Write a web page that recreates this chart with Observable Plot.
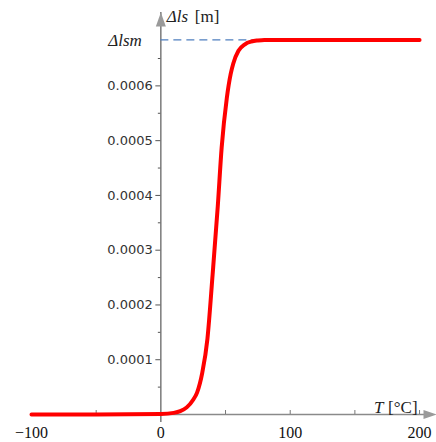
<!DOCTYPE html>
<html>
<head>
<meta charset="utf-8">
<script src="https://cdn.jsdelivr.net/npm/d3@7"></script>
<script src="https://cdn.jsdelivr.net/npm/@observablehq/plot@0.6"></script>
<style>
  html, body { margin: 0; padding: 0; background: #fff; }
</style>
</head>
<body>
<div id="chart"></div>
<script>
// Curve data: temperature T [°C] and elongation Δls [m]
const temps = [-100, -50, 0, 10, 15, 20, 25, 28, 32, 36, 40, 44, 47, 51, 54, 56, 60, 65, 70, 75, 80, 100, 150, 200];
const dls = [0, 0, 0.000001, 0.000003, 0.000006, 0.000013, 0.000027, 0.000040, 0.000076, 0.000138, 0.000255, 0.000380, 0.000487, 0.000578, 0.000622, 0.000641, 0.000664, 0.000676, 0.000681, 0.000683, 0.000684, 0.000684, 0.000684, 0.000684];

// Reference level Δlsm and where its dashed guide ends
const lsm = 0.000684;
const lsmGuideEnd = 74;

// Axis ticks and labels
const xLabelValues = [-100, 0, 100, 200];
const xLabelTexts = ["\u2212100", "0", "100", "200"];
const xTickValues = [-50, 50, 100, 150, 200];
const yMajor = [0.0001, 0.0002, 0.0003, 0.0004, 0.0005, 0.0006];
const yLabelTexts = ["0.0001", "0.0002", "0.0003", "0.0004", "0.0005", "0.0006"];
const yMinor = [0.00005, 0.00015, 0.00025, 0.00035, 0.00045, 0.00055, 0.00065];

// Axis extents (data units)
const xMin = -100, xMax = 213.1;
const yMin = 0, yMax = 0.000734;

const curve = temps.map((t, i) => ({T: t, v: dls[i]}));
const xLabels = xLabelValues.map((x, i) => ({x, text: xLabelTexts[i]}));
const yLabels = yMajor.map((y, i) => ({y, text: yLabelTexts[i]}));

const arrowUp = {draw(ctx) { ctx.moveTo(0, 0); ctx.lineTo(-5, 14); ctx.lineTo(5, 14); ctx.closePath(); }};
const arrowRight = {draw(ctx) { ctx.moveTo(0, 0); ctx.lineTo(-13, -4.5); ctx.lineTo(-13, 4.5); ctx.closePath(); }};

const serif = "'Liberation Serif', 'Times New Roman', serif";
const sans = "'DejaVu Sans', Verdana, sans-serif";

const chart = Plot.plot({
  width: 436,
  height: 442,
  marginLeft: 31,
  marginRight: 0,
  marginTop: 12,
  marginBottom: 28,
  x: {domain: [xMin, xMax], axis: null},
  y: {domain: [yMin, yMax], axis: null},
  marks: [
    // axes lines
    Plot.ruleY([0], {x1: xMin, x2: xMax, dx: 0, stroke: "#8a8a8a", strokeWidth: 1.5, insetRight: 8}),
    Plot.ruleX([0], {y1: yMin, y2: yMax, stroke: "#666", strokeWidth: 1.3, insetTop: 8}),
    // y ticks
    Plot.ruleY(yMajor, {x1: 0, x2: 0, insetLeft: -5, stroke: "#555", strokeWidth: 1}),
    Plot.ruleY(yMinor, {x1: 0, x2: 0, insetLeft: -2.5, stroke: "#555", strokeWidth: 1}),
    // x ticks
    Plot.ruleX(xTickValues, {y1: 0, y2: 0, insetTop: -4, stroke: "#777", strokeWidth: 1}),
    // arrowheads
    Plot.dot([{x: 0, y: yMax}], {x: "x", y: "y", symbol: arrowUp, r: 5, fill: "#9a9a9a", stroke: "none"}),
    Plot.dot([{x: xMax, y: 0}], {x: "x", y: "y", symbol: arrowRight, r: 5, fill: "#9a9a9a", stroke: "none"}),
    // dashed Δlsm guide
    Plot.ruleY([lsm], {x1: 0, x2: lsmGuideEnd, stroke: "#4f7fbf", strokeWidth: 1.3, strokeDasharray: "8,5"}),
    // the curve
    Plot.line(curve, {x: "T", y: "v", stroke: "#ff0000", strokeWidth: 4, curve: "monotone-x", strokeLinejoin: "round"}),
    // y tick labels
    Plot.text(yLabels, {x: 0, y: "y", text: "text", textAnchor: "end", dx: -8, fontFamily: sans, fontSize: 13, fill: "#333"}),
    // x tick labels
    Plot.text(xLabels, {x: "x", y: 0, text: "text", lineAnchor: "bottom", dy: 23, fontFamily: serif, fontSize: 16, fill: "#111"}),
    // Δlsm label
    Plot.text([lsm], {x: 0, y: d => d, text: ["\u0394lsm"], textAnchor: "end", dx: -19, dy: 1, fontFamily: serif, fontStyle: "italic", fontSize: 17, fill: "#222"}),
    // y axis title
    Plot.text([yMax], {x: 0, y: d => d, text: ["\u0394ls"], textAnchor: "start", lineAnchor: "bottom", dx: 6, dy: 9, fontFamily: serif, fontStyle: "italic", fontSize: 17, fill: "#222"}),
    Plot.text([yMax], {x: 0, y: d => d, text: ["[m]"], textAnchor: "start", lineAnchor: "bottom", dx: 34, dy: 9, fontFamily: serif, fontSize: 17, fill: "#222"}),
    // x axis title
    Plot.text([200], {x: d => d, y: 0, text: ["T"], textAnchor: "end", lineAnchor: "bottom", dx: -36, dy: -2, fontFamily: serif, fontStyle: "italic", fontSize: 17, fill: "#222"}),
    Plot.text([200], {x: d => d, y: 0, text: ["[\u00b0C]"], textAnchor: "end", lineAnchor: "bottom", dx: -2, dy: -2, fontFamily: serif, fontSize: 17, fill: "#222"})
  ]
});

document.getElementById("chart").appendChild(chart);
</script>
</body>
</html>
